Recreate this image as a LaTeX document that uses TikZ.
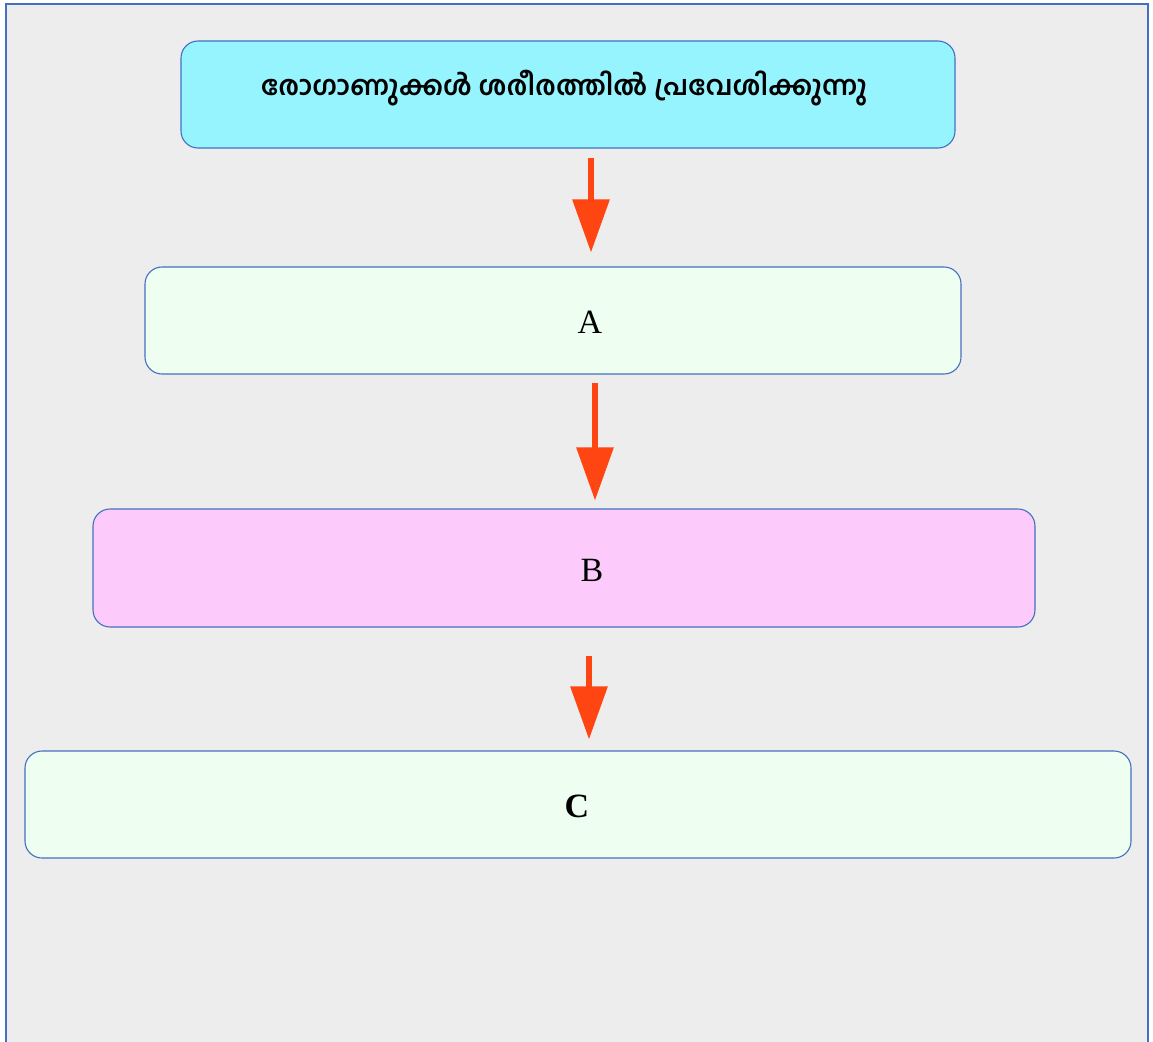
\documentclass[tikz,border=0pt]{standalone}
\usepackage{fontspec}
\setmainfont{Liberation Serif}
\newfontfamily\mlfont[Script=Malayalam]{Hind Kochi}
\usetikzlibrary{arrows.meta}
\definecolor{panelgray}{HTML}{EDEDED}
\definecolor{frameblue}{HTML}{4470C0}
\definecolor{cyanfill}{HTML}{96F4FE}
\definecolor{greenfill}{HTML}{EEFEF0}
\definecolor{pinkfill}{HTML}{FCCBFC}
\definecolor{arrowred}{HTML}{FF4512}
\tikzset{
  box/.style={draw=frameblue, line width=1.1pt, rounded corners=17pt, inner sep=0pt},
  lbl/.style={inner sep=0pt, font=\fontsize{34}{40}\selectfont},
  flow/.style={draw=arrowred, line width=6pt, -{Triangle[length=53pt,width=36pt]}, arrowred}
}
\begin{document}
\begin{tikzpicture}[x=1pt,y=-1pt]
\useasboundingbox (0,0) rectangle (1153,1041);
\fill[panelgray] (6,4) rectangle (1148,1045);
\draw[frameblue, line width=1.2pt] (6,1045) -- (6,4) -- (1148,4) -- (1148,1045);
\node[box, fill=cyanfill, minimum width=774pt, minimum height=107pt] (b1) at (568,94.5) {};
\node[box, fill=greenfill, minimum width=816pt, minimum height=107pt] (b2) at (553,320.5) {};
\node[box, fill=pinkfill, minimum width=942pt, minimum height=118pt] (b3) at (564,568) {};
\node[box, fill=greenfill, minimum width=1106pt, minimum height=107pt] (b4) at (578,804.5) {};
\node[inner sep=0pt, font=\mlfont\bfseries\fontsize{27}{31}\selectfont] (t1) at (564,88) {രോഗാണുക്കൾ ശരീരത്തിൽ പ്രവേശിക്കുന്നു};
\node[lbl] (tA) at (590,322) {A};
\node[lbl] (tB) at (592,570) {B};
\node[lbl, font=\fontsize{34}{40}\selectfont\bfseries] (tC) at (577,806) {C};
\coordinate (s1) at (591,158);
\coordinate (s2) at (595,383);
\coordinate (s3) at (589,656);
\draw[flow, shorten >=14pt] (s1) -- (s1 |- b2.north);
\draw[flow, shorten >=8pt] (s2) -- (s2 |- b3.north);
\draw[flow, shorten >=11pt] (s3) -- (s3 |- b4.north);
\end{tikzpicture}
\end{document}
